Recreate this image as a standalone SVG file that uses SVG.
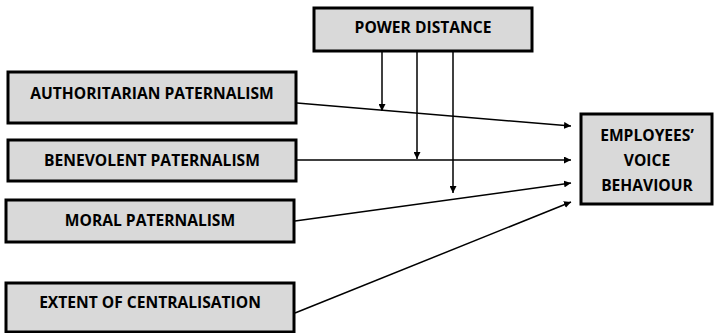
<svg xmlns="http://www.w3.org/2000/svg" width="714" height="333" viewBox="0 0 714 333">
<style>
.box{fill:#d9d9d9;stroke:#000;stroke-width:3}
.t{font-family:"Open Sans","Liberation Sans",sans-serif;font-weight:bold;font-size:15.6px;fill:#000;text-anchor:middle}
.c{stroke:#000;stroke-width:1.5;fill:none;marker-end:url(#ah)}
</style>
<defs>
<marker id="ah" viewBox="0 0 10 10" refX="10" refY="5" markerWidth="7" markerHeight="7" markerUnits="userSpaceOnUse" orient="auto">
<path d="M0,0 L10,5 L0,10 z" fill="#000"/>
</marker>
</defs>
<rect width="714" height="333" fill="#fff"/>
<g id="power-distance"><rect class="box" x="314" y="8" width="218" height="43"/><text class="t" x="423" y="33">POWER DISTANCE</text></g>
<g id="authoritarian"><rect class="box" x="8" y="72" width="288" height="51"/><text class="t" x="152" y="99">AUTHORITARIAN PATERNALISM</text></g>
<g id="benevolent"><rect class="box" x="8" y="140" width="288" height="41"/><text class="t" x="152" y="166">BENEVOLENT PATERNALISM</text></g>
<g id="moral"><rect class="box" x="6" y="200" width="288" height="42"/><text class="t" x="150" y="226">MORAL PATERNALISM</text></g>
<g id="centralisation"><rect class="box" x="6" y="283" width="288" height="49"/><text class="t" x="150" y="308">EXTENT OF CENTRALISATION</text></g>
<g id="employees"><rect class="box" x="581" y="114" width="131" height="90"/><text class="t" x="647" y="141">EMPLOYEES’</text><text class="t" x="647" y="166">VOICE</text><text class="t" x="647" y="191">BEHAVIOUR</text></g>
<g id="connectors">
<path class="c" d="M382,52 V111"/>
<path class="c" d="M417,52 V159"/>
<path class="c" d="M453,52 V193"/>
<path class="c" d="M297,103 L571,126"/>
<path class="c" d="M297,160 L571,160"/>
<path class="c" d="M295,221 L571,183"/>
<path class="c" d="M295,313 L571,202"/>
</g>
</svg>
